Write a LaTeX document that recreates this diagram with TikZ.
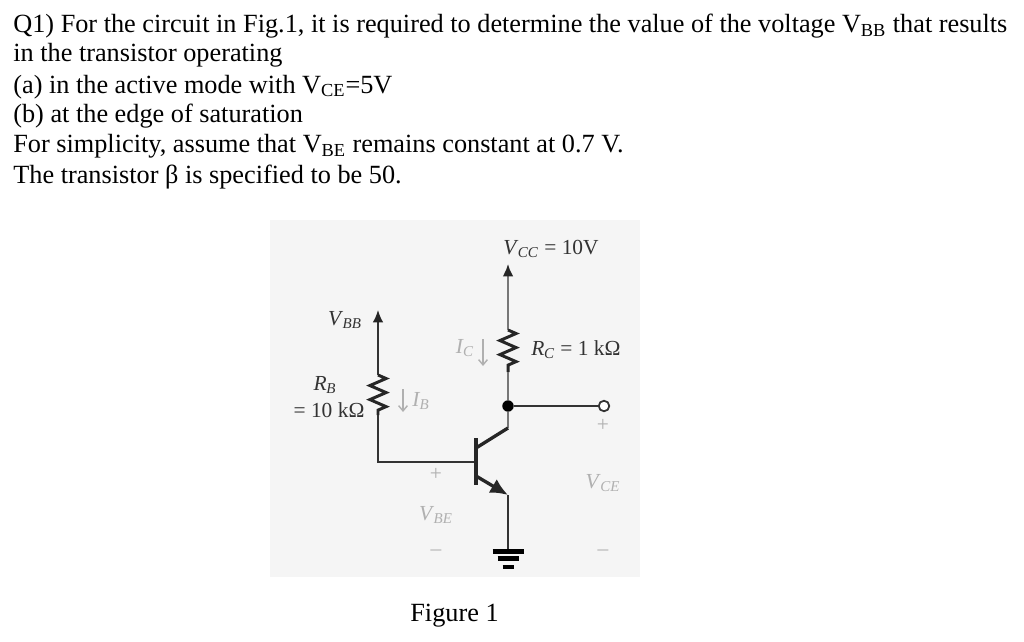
\documentclass[tikz,border=0pt]{standalone}
\usepackage{fontspec}
\setmainfont{Liberation Serif}
\usetikzlibrary{arrows.meta}
\usetikzlibrary{decorations.pathmorphing}
\definecolor{panel}{HTML}{F5F5F5}
\definecolor{wire}{HTML}{333333}
\definecolor{softwire}{HTML}{777777}
\definecolor{faint}{HTML}{B0B0B0}
\tikzstyle{line}=[anchor=base west,inner sep=0pt,text=black,font=\fontsize{14.95pt}{17pt}\selectfont]
\tikzstyle{dark}=[inner sep=0pt,text=wire,font=\fontsize{12.2pt}{14pt}\selectfont]
\tikzstyle{pale}=[inner sep=0pt,text=faint,font=\fontsize{12.2pt}{14pt}\selectfont]
\tikzstyle{wireline}=[draw=wire,line width=1pt]
\tikzstyle{softline}=[draw=softwire,line width=1.1pt]
\tikzstyle{heavy}=[draw=black!85,line width=1.9pt]
\tikzstyle{res}=[draw=black!85,line width=1.7pt,decorate,decoration={zigzag,segment length=8pt,amplitude=4.6pt}]
\tikzstyle{up}=[-{Latex[length=7pt,width=6pt,black!85]}]
\tikzstyle{current}=[draw=faint,line width=0.8pt,-{Straight Barb[length=3pt,width=5pt]}]
\newcommand{\ital}[2]{\textit{#1}\kern-0.3pt\textsubscript{\textit{#2}}}
\begin{document}
\begin{tikzpicture}[x=0.02cm,y=-0.02cm]

  \useasboundingbox (0,0) rectangle (1024,642);
  \fill[white] (0,0) rectangle (1024,642);
  \fill[panel] (270,220) rectangle (640,577);

  \foreach \y/\name/\label in {
      33/q1/{Q1) For the circuit in Fig.1, it is required to determine the value of the voltage V\textsubscript{BB} that results},
      62/q2/{in the transistor operating},
      93/q3/{(a) in the active mode with V\textsubscript{CE}=5V},
      123/q4/{(b) at the edge of saturation},
      153/q5/{For simplicity, assume that V\textsubscript{BE} remains constant at 0.7 V.},
      183/q6/{The transistor β is specified to be 50.}}
     \node[line] (\name) at (13,\y) {\label};
  \node[line] (fig) at (410,621) {Figure 1};

  \foreach \x/\y/\name/\label in {
      551/249/vcc/{\ital{V}{CC} = 10V},
      345/320/vbb/{\ital{V}{BB}},
      325/385/rb/{\ital{R}{B}},
      329/410/rbv/{= 10 kΩ},
      576/350/rc/{\ital{R}{C} = 1 kΩ}}
     \node[dark] (\name) at (\x,\y) {\label};

  \foreach \x/\y/\name/\label in {
      465/348/ic/{\ital{I}{C}},
      421/401/ib/{\ital{I}{B}},
      436/515/vbe/{\ital{V}{BE}},
      603/483/vce/{\ital{V}{CE}},
      436/474/pb/{+},
      603/425/pc/{+},
      436/553/mb/{--},
      603/553/mc/{--}}
     \node[pale] (\name) at (\x,\y) {\label};

  \foreach \x/\y/\name in {
      508/264/ctip, 508/330/rctop, 508/372/rcbot, 508/428/coll, 476/448/cin,
      378/310/btip, 378/375/rbtop, 378/415/rbbot, 378/462/bcor, 476/462/bin,
      476/438/bartop, 476/485/barbot, 476/476/ein, 508/495/emit, 508/552/gnd,
      483/339/icfrom, 483/366/icto, 403/389/ibfrom, 403/412/ibto}
     \coordinate (\name) at (\x,\y);

  \node[circle,fill=black,minimum size=6.5pt,inner sep=0pt] (joint) at (508,406) {};
  \node[circle,draw=wire,fill=white,line width=1pt,minimum size=6pt,inner sep=0pt] (out) at (604,406) {};

  \draw[softline,up] (rctop) -- (ctip);
  \draw[res] (rctop) -- (rcbot);
  \draw[softline] (rcbot) -- (joint);
  \draw[softline] (joint) -- (coll);
  \draw[wireline] (joint) -- (out);
  \draw[wireline,up] (rbtop) -- (btip);
  \draw[res] (rbtop) -- (rbbot);
  \draw[wireline] (rbbot) -- (bcor) -- (bin);
  \draw[heavy] (bartop) -- (barbot);
  \draw[heavy] (cin) -- (coll);
  \draw[heavy,-{Latex[length=10pt,width=9pt]}] (ein) -- (emit);
  \draw[wireline] (emit) -- (gnd);

  % ground bars
  \foreach \y/\w/\t in {551.5/15.5/2.5pt, 558.5/10.5/2.5pt, 567/5.5/2.6pt}
     \draw[black,line width=\t] (508-\w,\y) -- (508+\w,\y);

  \draw[current] (icfrom) -- (icto);
  \draw[current] (ibfrom) -- (ibto);

\end{tikzpicture}
\end{document}
